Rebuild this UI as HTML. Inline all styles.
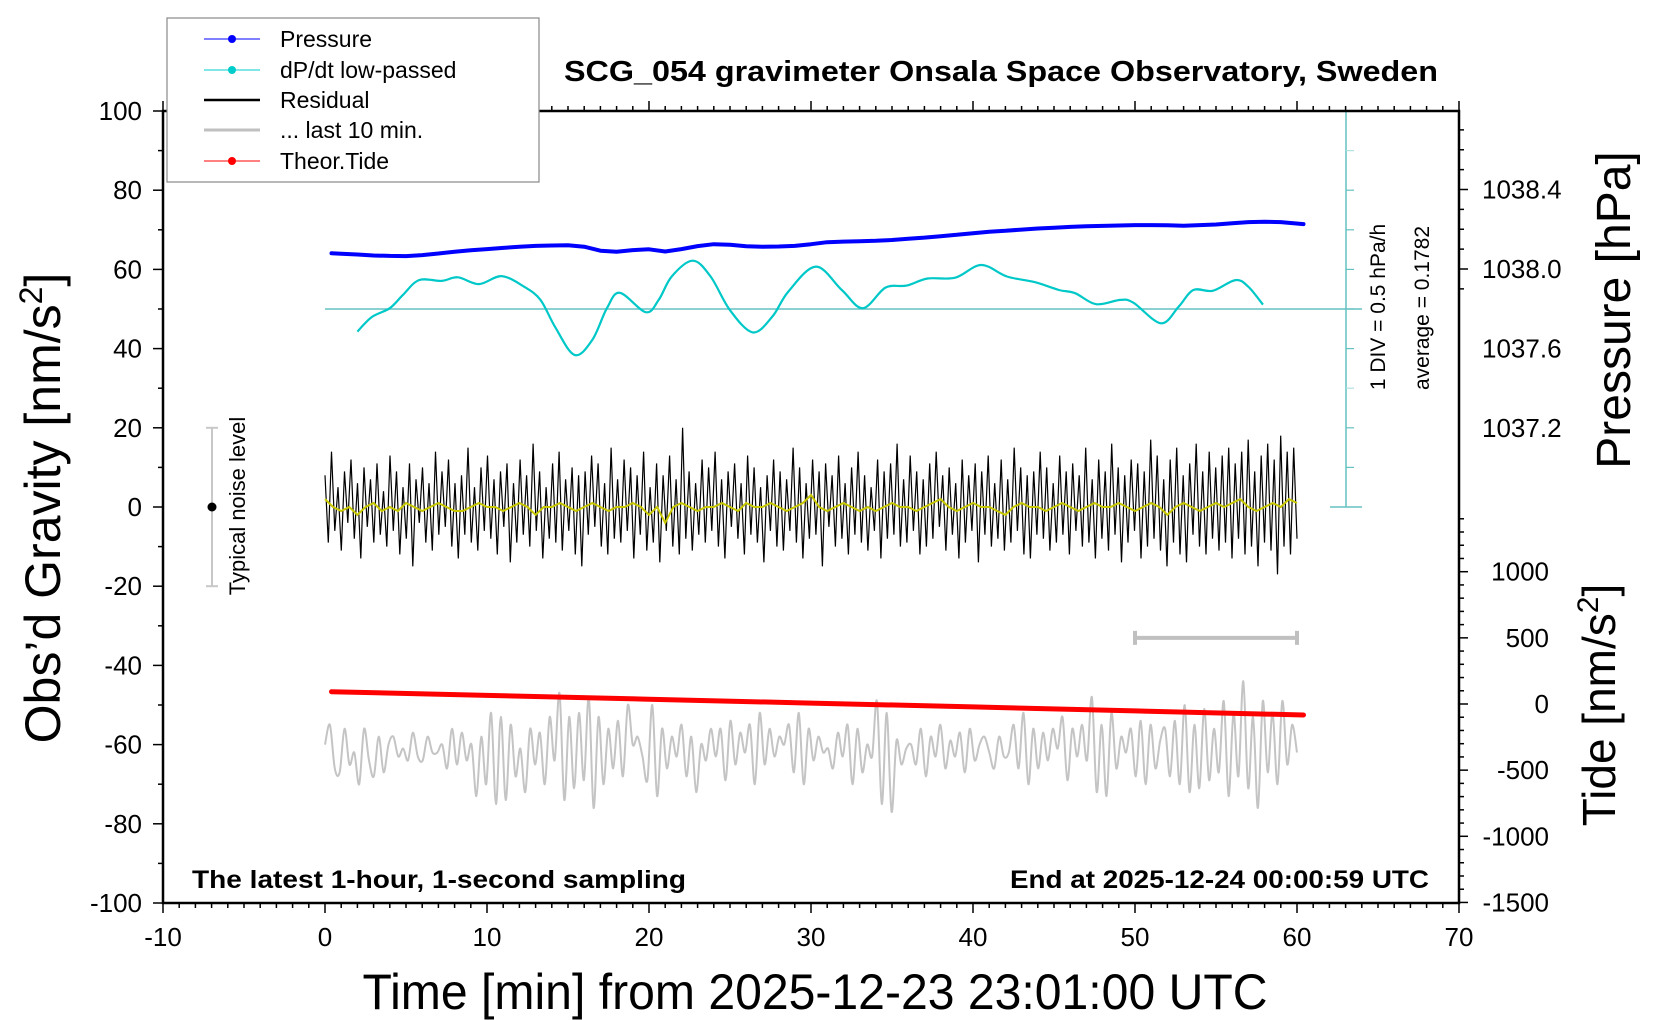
<!DOCTYPE html>
<html><head><meta charset="utf-8">
<style>
html,body{margin:0;padding:0;background:#fff;}
svg{display:block;font-family:"Liberation Sans",Arial,sans-serif;}
</style></head>
<body>
<svg id="chart" width="1660" height="1020" viewBox="0 0 1660 1020" xmlns="http://www.w3.org/2000/svg">
  <g id="marks"></g>
  <g id="axes"></g>
  <text x="1001" y="81" font-size="29" font-weight="bold" text-anchor="middle" textLength="874" lengthAdjust="spacingAndGlyphs">SCG_054 gravimeter Onsala Space Observatory, Sweden</text>
  <text x="192" y="888" font-size="25" font-weight="bold" textLength="494" lengthAdjust="spacingAndGlyphs">The latest 1-hour, 1-second sampling</text>
  <text x="1429" y="888" font-size="25" font-weight="bold" text-anchor="end" textLength="419" lengthAdjust="spacingAndGlyphs">End at 2025-12-24 00:00:59 UTC</text>
  <text x="815" y="1009" font-size="50" text-anchor="middle" textLength="905" lengthAdjust="spacingAndGlyphs">Time [min] from 2025-12-23 23:01:00 UTC</text>
  <text transform="translate(60,508) rotate(-90)" font-size="50" text-anchor="middle">Obs’d Gravity [nm/s<tspan font-size="32" dy="-18">2</tspan><tspan dy="18">]</tspan></text>
  <text transform="translate(1630,310) rotate(-90)" font-size="48" text-anchor="middle">Pressure [hPa]</text>
  <text transform="translate(1615,705) rotate(-90)" font-size="46" text-anchor="middle">Tide [nm/s<tspan font-size="30" dy="-17">2</tspan><tspan dy="17">]</tspan></text>
  <text transform="translate(1385,307) rotate(-90)" font-size="21" text-anchor="middle">1 DIV = 0.5 hPa/h</text>
  <text transform="translate(1429,308) rotate(-90)" font-size="21" text-anchor="middle">average = 0.1782</text>
  <text transform="translate(245,506) rotate(-90)" font-size="22" text-anchor="middle">Typical noise level</text>
  <g id="legend">
    <rect x="167" y="18" width="372" height="164" fill="#fff" stroke="#888" stroke-width="1.2"/>
    <g><line x1="204" y1="39" x2="260" y2="39" stroke="#0000ff" stroke-width="1"/><circle cx="232" cy="39" r="4" fill="#0000ff"/><text x="280" y="47" font-size="23">Pressure</text></g>
    <g><line x1="204" y1="70" x2="260" y2="70" stroke="#00cccc" stroke-width="1"/><circle cx="232" cy="70" r="4" fill="#00cccc"/><text x="280" y="78" font-size="23">dP/dt low-passed</text></g>
    <g><line x1="204" y1="100" x2="260" y2="100" stroke="#000" stroke-width="2.5"/><text x="280" y="108" font-size="23">Residual</text></g>
    <g><line x1="204" y1="130" x2="260" y2="130" stroke="#c0c0c0" stroke-width="3"/><text x="280" y="138" font-size="23">... last 10 min.</text></g>
    <g><line x1="204" y1="161" x2="260" y2="161" stroke="#ff0000" stroke-width="1"/><circle cx="232" cy="161" r="4" fill="#ff0000"/><text x="280" y="169" font-size="23">Theor.Tide</text></g>
  </g>
</svg>
<script>
const pressureTime = [0.4,1,2,3,4,5,6,7,8,9,10,11,12,13,14,15,16,17,18,19,20,21,22,23,24,25,26,27,28,29,30,31,32,33,34,35,36,37,38,39,40,41,42,43,44,45,46,47,48,49,50,51,52,53,54,55,56,57,58,59,60.4];
const pressureValue = [1038.079,1038.077,1038.073,1038.068,1038.066,1038.065,1038.070,1038.078,1038.087,1038.094,1038.100,1038.106,1038.112,1038.116,1038.118,1038.119,1038.112,1038.092,1038.087,1038.095,1038.099,1038.088,1038.100,1038.115,1038.125,1038.122,1038.114,1038.112,1038.113,1038.116,1038.125,1038.135,1038.138,1038.140,1038.142,1038.146,1038.152,1038.158,1038.165,1038.172,1038.180,1038.187,1038.192,1038.198,1038.204,1038.208,1038.212,1038.215,1038.217,1038.219,1038.221,1038.221,1038.220,1038.218,1038.221,1038.224,1038.230,1038.236,1038.238,1038.236,1038.226];
const dpdtTime = [2.0,2.9,4.0,4.8,5.8,7.2,8.2,9.5,10.9,12.3,13.3,14.2,15.4,16.5,17.4,18.2,19.8,20.6,21.4,22.7,23.8,25.0,26.4,27.6,28.6,30.3,31.9,33.2,34.6,35.9,37.2,38.9,40.5,42.1,43.8,45.3,46.3,47.6,49.1,49.9,51.6,52.7,53.6,54.8,56.2,57.0,57.9];
const dpdtValue = [44.3,48.0,50.2,53.5,57.3,57.1,58.0,56.3,58.3,55.6,52.3,45.5,38.4,42.2,50.2,54.1,49.2,52.3,58.2,62.2,58.2,49.7,44.1,48.0,54.4,60.7,54.8,50.2,55.4,55.9,57.7,57.9,61.1,58.2,56.8,54.8,54.0,51.2,52.3,51.6,46.4,50.6,54.8,54.6,57.3,55.6,51.1];
const residualValue = [
8,-9,14,-6,5,-11,9,-4,12,-8,6,-13,10,-5,7,-9,11,-7,4,-10,
13,-6,9,-12,5,-8,11,-15,7,-4,10,-9,6,-11,14,-7,9,-5,12,-10,
6,-13,8,-7,15,-9,5,-11,10,-6,13,-8,7,-12,9,-5,11,-14,6,-9,
12,-7,8,-10,16,-6,9,-13,5,-8,11,-9,14,-11,7,-6,10,-12,8,-15,
9,-7,13,-5,11,-10,6,-12,15,-8,7,-9,12,-6,10,-13,8,-7,14,-11,
5,-9,11,-14,8,-6,13,-10,7,-12,20,-8,9,-11,6,-7,12,-9,10,-6,
14,-10,7,-13,9,-5,11,-8,6,-12,13,-7,10,-9,5,-14,8,-6,12,-10,
9,-11,7,-6,15,-9,10,-13,6,-8,12,-7,9,-15,11,-5,8,-10,13,-8,
6,-12,10,-7,14,-9,8,-11,5,-6,12,-13,9,-8,11,-7,16,-10,7,-9,
13,-6,9,-12,7,-10,11,-8,14,-5,8,-11,10,-7,6,-13,12,-9,8,-6,
11,-14,9,-7,13,-10,6,-8,12,-11,7,-9,15,-6,10,-12,8,-13,9,-7,
14,-8,10,-11,6,-9,13,-7,9,-12,11,-6,8,-10,15,-9,7,-13,12,-8,
9,-11,16,-7,10,-14,8,-9,12,-6,11,-13,9,-10,17,-8,13,-11,7,-15,
12,-9,15,-12,8,-14,11,-7,16,-10,9,-12,14,-8,10,-11,13,-9,15,-13,
11,-8,14,-12,17,-10,9,-15,13,-9,16,-11,12,-17,18,-10,14,-12,15,-8];
const lowpassValue = [
2,0,-1,0,-2,0,1,-1,0,-1,1,0,-1,0,1,0,-1,-1,0,1,
0,0,-1,0,1,0,-2,0,0,1,0,-1,0,1,0,-1,0,0,1,0,
-2,0,-4,0,1,0,-1,0,0,1,0,-1,1,0,0,1,0,-1,0,1,
3,0,-1,0,1,0,-1,0,-1,0,1,0,0,-1,0,1,2,0,-1,0,
1,0,0,-1,-2,0,1,0,0,-1,0,1,0,-1,0,1,0,0,1,0,
-1,0,1,0,-2,0,1,0,-1,0,1,0,1,2,0,-1,0,1,0,2,1];
const last10Value = [
-60,-55,-66,-67,-56,-65,-62,-70,-56,-64,-68,-58,-67,-60,-58,-63,-61,-64,-57,-63,
-64,-58,-62,-62,-60,-66,-56,-65,-57,-64,-60,-73,-58,-70,-52,-75,-53,-74,-55,-68,
-61,-72,-56,-65,-57,-70,-53,-64,-47,-74,-53,-71,-52,-69,-48,-76,-53,-70,-56,-66,
-54,-68,-50,-60,-58,-63,-69,-50,-73,-56,-66,-58,-63,-55,-68,-58,-72,-60,-64,-56,
-63,-56,-69,-54,-65,-57,-62,-55,-70,-52,-65,-56,-63,-58,-60,-55,-67,-52,-70,-56,
-64,-58,-62,-61,-66,-57,-63,-55,-70,-56,-67,-60,-63,-49,-75,-52,-77,-59,-65,-61,
-60,-65,-56,-68,-58,-63,-55,-66,-59,-63,-57,-67,-56,-64,-60,-58,-62,-66,-58,-63,
-62,-55,-66,-52,-70,-56,-66,-57,-64,-56,-61,-53,-69,-56,-63,-55,-64,-48,-72,-55,
-73,-52,-66,-58,-62,-56,-68,-54,-70,-55,-66,-59,-56,-68,-54,-70,-50,-72,-55,-71,
-51,-69,-56,-67,-49,-73,-52,-68,-44,-71,-53,-76,-49,-67,-52,-70,-49,-65,-55,-62];
const tideTime = [0.4,10,20,30,40,50,60.4];
const tideValue = [93,65,36,7,-22,-52,-83];
const xTicks = [-10,0,10,20,30,40,50,60,70];
const gravityTicks = [-100,-80,-60,-40,-20,0,20,40,60,80,100];
const pressureTicks = [1037.2,1037.6,1038.0,1038.4];
const tideTicks = [-1500,-1000,-500,0,500,1000];

const NS = "http://www.w3.org/2000/svg";
const X = m => 163 + (m + 10) * 16.2;
const Y = v => 903 - (v + 100) * 3.96;
const YP = p => 269 - (p - 1038) * 198.75;
const YT = t => 704 - t * 0.1323;
const marks = document.getElementById('marks');
const axes = document.getElementById('axes');
function mk(tag, attrs, parent) {
  const e = document.createElementNS(NS, tag);
  for (const k in attrs) e.setAttribute(k, attrs[k]);
  parent.appendChild(e);
  return e;
}
function smoothPath(pts) {
  let d = `M${pts[0][0].toFixed(1)},${pts[0][1].toFixed(1)}`;
  for (let i = 0; i < pts.length - 1; i++) {
    const p0 = pts[Math.max(0, i - 1)], p1 = pts[i], p2 = pts[i + 1], p3 = pts[Math.min(pts.length - 1, i + 2)];
    const c1x = p1[0] + (p2[0] - p0[0]) / 6, c1y = p1[1] + (p2[1] - p0[1]) / 6;
    const c2x = p2[0] - (p3[0] - p1[0]) / 6, c2y = p2[1] - (p3[1] - p1[1]) / 6;
    d += ` C${c1x.toFixed(1)},${c1y.toFixed(1)} ${c2x.toFixed(1)},${c2y.toFixed(1)} ${p2[0].toFixed(1)},${p2[1].toFixed(1)}`;
  }
  return d;
}
function linePath(pts) { return 'M' + pts.map(p => p[0].toFixed(1) + ',' + p[1].toFixed(1)).join(' L'); }

let e;
e = mk('line', {x1: X(0), y1: Y(50), x2: 1362, y2: Y(50), stroke: '#66c2c2', 'stroke-width': 1.5}, marks);


e = mk('g', {}, marks);


mk('line', {x1: 1346, y1: Y(100), x2: 1346, y2: Y(0), stroke: '#66c2c2', 'stroke-width': 1.5}, e);
mk('line', {x1: 1330, y1: Y(0), x2: 1362, y2: Y(0), stroke: '#66c2c2', 'stroke-width': 1.5}, e);
mk('line', {x1: 1330, y1: Y(100), x2: 1362, y2: Y(100), stroke: '#66c2c2', 'stroke-width': 1.5}, e);
for (let v = 10; v < 100; v += 10) {
  mk('line', {x1: 1346, y1: Y(v), x2: 1354, y2: Y(v), stroke: (v === 30 || v === 90) ? '#b0e0e0' : '#66c2c2', 'stroke-width': 1.2}, e);
}

e = mk('g', {}, marks);


mk('line', {x1: 212, y1: Y(20), x2: 212, y2: Y(-20), stroke: '#c8c8c8', 'stroke-width': 2}, e);
mk('line', {x1: 206, y1: Y(20), x2: 218, y2: Y(20), stroke: '#c8c8c8', 'stroke-width': 2}, e);
mk('line', {x1: 206, y1: Y(-20), x2: 218, y2: Y(-20), stroke: '#c8c8c8', 'stroke-width': 2}, e);
mk('circle', {cx: 212, cy: Y(0), r: 4.5, fill: '#000'}, e);

e = mk('g', {}, marks);


mk('line', {x1: X(50), y1: YT(500), x2: X(60), y2: YT(500), stroke: '#c0c0c0', 'stroke-width': 4}, e);
mk('line', {x1: X(50), y1: YT(500) - 7, x2: X(50), y2: YT(500) + 7, stroke: '#c0c0c0', 'stroke-width': 4}, e);
mk('line', {x1: X(60), y1: YT(500) - 7, x2: X(60), y2: YT(500) + 7, stroke: '#c0c0c0', 'stroke-width': 4}, e);

e = mk('path', {d: smoothPath(last10Value.map((v, i) => [X(i * 60 / (last10Value.length - 1)), Y(v)])), fill: 'none', stroke: '#c4c4c4', 'stroke-width': 2}, marks);



e = mk('path', {d: linePath(residualValue.map((v, i) => [X(i * 60 / (residualValue.length - 1)), Y(v)])), fill: 'none', stroke: '#000', 'stroke-width': 1.2}, marks);


e = mk('path', {d: linePath(lowpassValue.map((v, i) => [X(i * 60 / (lowpassValue.length - 1)), Y(v)])), fill: 'none', stroke: '#c8c800', 'stroke-width': 2}, marks);



e = mk('path', {d: linePath(tideTime.map((t, i) => [X(t), YT(tideValue[i])])), fill: 'none', stroke: '#ff0000', 'stroke-width': 5, 'stroke-linecap': 'round'}, marks);



e = mk('path', {d: smoothPath(dpdtTime.map((t, i) => [X(t), Y(dpdtValue[i])])), fill: 'none', stroke: '#00c8c8', 'stroke-width': 2.2}, marks);



e = mk('path', {d: linePath(pressureTime.map((t, i) => [X(t), YP(pressureValue[i])])), fill: 'none', stroke: '#0000ff', 'stroke-width': 4, 'stroke-linecap': 'round', 'stroke-linejoin': 'bevel'}, marks);



e = mk('rect', {x: X(-10), y: Y(100), width: X(70) - X(-10), height: Y(-100) - Y(100), fill: 'none', stroke: '#000', 'stroke-width': 2.5}, axes);



for (let m = -10; m <= 70; m++) {
  const major = m % 10 === 0;
  const len = major ? 10 : 5;
  mk('line', {x1: X(m), y1: Y(-100), x2: X(m), y2: Y(-100) + len, stroke: '#000', 'stroke-width': 1.5}, axes);
  mk('line', {x1: X(m), y1: Y(100), x2: X(m), y2: Y(100) - len, stroke: '#000', 'stroke-width': 1.5}, axes);
}
xTicks.forEach(t => {
  const el = mk('text', {x: X(t), y: 946, 'font-size': 26, 'text-anchor': 'middle'}, axes);
  el.textContent = t;
  
  
});
for (let v = -100; v <= 100; v += 10) {
  const len = v % 20 === 0 ? 10 : 5;
  mk('line', {x1: X(-10), y1: Y(v), x2: X(-10) - len, y2: Y(v), stroke: '#000', 'stroke-width': 1.5}, axes);
}
gravityTicks.forEach(v => {
  const el = mk('text', {x: 142, y: Y(v) + 9, 'font-size': 26, 'text-anchor': 'end'}, axes);
  el.textContent = v;
  
  
});
for (let k = 19; k <= 27; k++) {
  const p = 1036.0 + k * 0.1;
  const major = k % 4 === 0;
  const len = major ? 9 : 5;
  mk('line', {x1: X(70), y1: YP(p), x2: X(70) + len, y2: YP(p), stroke: '#000', 'stroke-width': 1.5}, axes);
}
pressureTicks.forEach(p => {
  const el = mk('text', {x: 1482, y: YP(p) + 9, 'font-size': 26}, axes);
  el.textContent = p.toFixed(1);
  
  
});
for (let t = -1500; t <= 1400; t += 100) {
  const len = t % 500 === 0 ? 9 : 5;
  mk('line', {x1: X(70), y1: YT(t), x2: X(70) + len, y2: YT(t), stroke: '#000', 'stroke-width': 1.5}, axes);
}
tideTicks.forEach(t => {
  const el = mk('text', {x: 1549, y: YT(t) + 9, 'font-size': 26, 'text-anchor': 'end'}, axes);
  el.textContent = t;
  
  
});
</script>
</body></html>
